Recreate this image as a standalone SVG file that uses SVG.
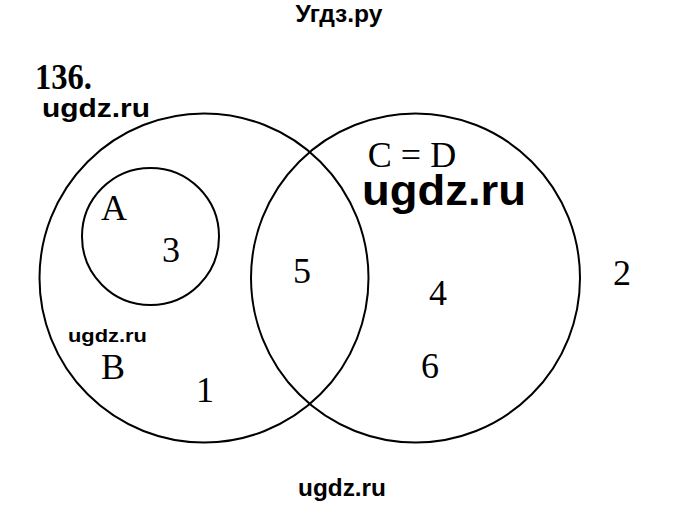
<svg xmlns="http://www.w3.org/2000/svg" width="680" height="513" viewBox="0 0 680 513">
<style>
.c{fill:none;stroke:#000;stroke-width:2}
.t{font-family:"Liberation Serif","Times New Roman",serif;font-size:36px;fill:#000}
.w{font-family:"Liberation Sans",Arial,sans-serif;font-weight:bold;fill:#000}
.n{font-family:"Liberation Serif","Times New Roman",serif;font-weight:bold;font-size:35px;fill:#000}
</style>
<rect width="680" height="513" fill="#fff"/>
<text class="w" x="339" y="22" font-size="23" text-anchor="middle" textLength="87" lengthAdjust="spacingAndGlyphs">Угдз.ру</text>
<text class="n" x="35" y="89" textLength="57" lengthAdjust="spacingAndGlyphs">136.</text>
<text class="w" x="42" y="117" font-size="25" textLength="108" lengthAdjust="spacingAndGlyphs">ugdz.ru</text>
<g id="B"><circle class="c" cx="204" cy="278" r="164.5"/><text class="t" x="101" y="379">B</text></g>
<g id="CD"><circle class="c" cx="415.5" cy="278" r="164.5"/><text class="t" x="412" y="167" text-anchor="middle">C = D</text></g>
<g id="A"><circle class="c" cx="150.5" cy="236.5" r="68.5"/><text class="t" x="101" y="220">A</text></g>
<text class="t" x="171" y="262" text-anchor="middle">3</text>
<text class="t" x="302" y="283" text-anchor="middle">5</text>
<text class="t" x="205" y="402" text-anchor="middle">1</text>
<text class="t" x="438" y="305" text-anchor="middle">4</text>
<text class="t" x="430" y="378" text-anchor="middle">6</text>
<text class="t" x="622" y="285" text-anchor="middle">2</text>
<text class="w" x="362" y="205" font-size="42" textLength="164" lengthAdjust="spacingAndGlyphs">ugdz.ru</text>
<text class="w" x="68" y="342" font-size="19" textLength="79" lengthAdjust="spacingAndGlyphs">ugdz.ru</text>
<text class="w" x="342" y="496" font-size="24" text-anchor="middle" textLength="88" lengthAdjust="spacingAndGlyphs">ugdz.ru</text>
<g id="connectors"/>
</svg>
